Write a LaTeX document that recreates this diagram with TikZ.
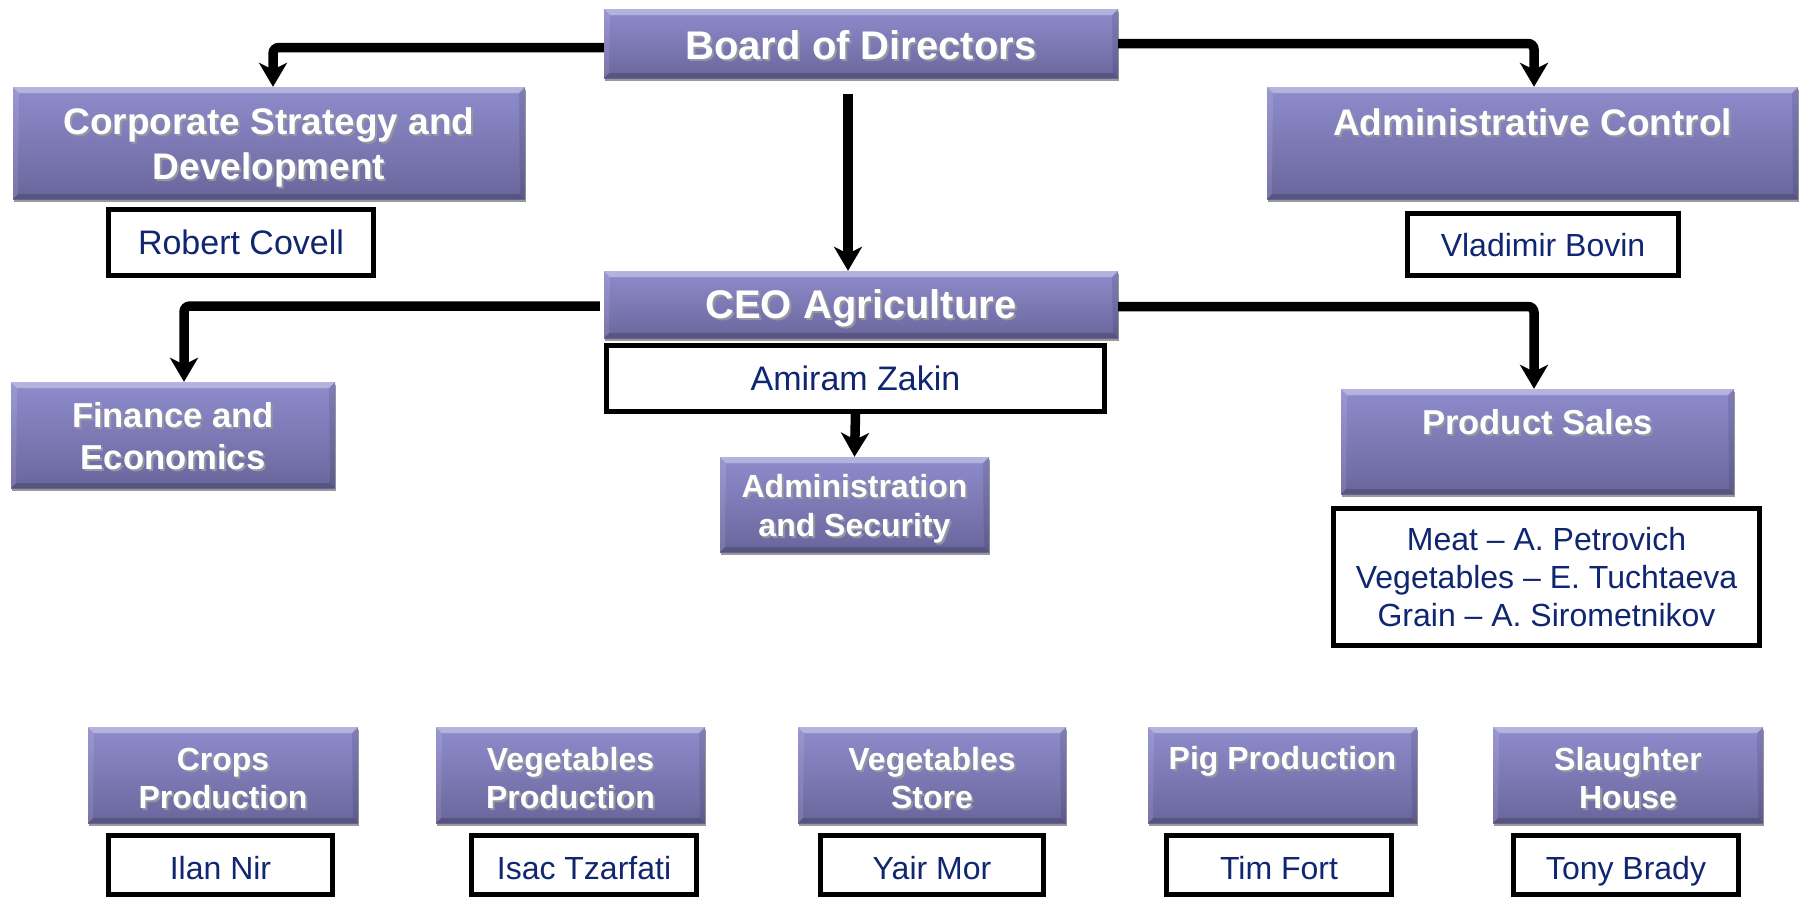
\documentclass[tikz,border=0pt]{standalone}
\usepackage{fontspec}
\setmainfont{Liberation Sans}
\usetikzlibrary{arrows.meta,shadows,calc}
\definecolor{boxtop}{RGB}{143,140,205}
\definecolor{boxbot}{RGB}{106,102,156}
\definecolor{tshadow}{RGB}{150,150,162}
\definecolor{navy}{RGB}{16,38,112}
\tikzset{
  pbox/.style={inner sep=0pt, top color=boxtop, bottom color=boxbot, draw=none,
    general shadow={fill=black!40, shadow xshift=1pt, shadow yshift=-2.5pt},
    path picture={
      \fill[white, opacity=0.35] (path picture bounding box.north west) -- (path picture bounding box.north east) -- ([shift={(-6pt,-6pt)}]path picture bounding box.north east) -- ([shift={(6pt,-6pt)}]path picture bounding box.north west) -- cycle;
      \fill[black, opacity=0.18] (path picture bounding box.south west) -- (path picture bounding box.south east) -- ([shift={(-5pt,5pt)}]path picture bounding box.south east) -- ([shift={(5pt,5pt)}]path picture bounding box.south west) -- cycle;
      \fill[white, opacity=0.10] (path picture bounding box.north west) -- ([shift={(6pt,-6pt)}]path picture bounding box.north west) -- ([shift={(5pt,5pt)}]path picture bounding box.south west) -- (path picture bounding box.south west) -- cycle;
      \fill[black, opacity=0.10] (path picture bounding box.north east) -- ([shift={(-6pt,-6pt)}]path picture bounding box.north east) -- ([shift={(-5pt,5pt)}]path picture bounding box.south east) -- (path picture bounding box.south east) -- cycle;
    }},
  btxt/.style={inner sep=0pt, align=center},
  nboxm/.style={draw=black, line width=5pt, fill=white, text=navy, inner sep=0pt, align=center},
  nbox/.style={nboxm, text depth=0pt, text height=23pt},
  arr/.style={line width=9.5pt, rounded corners=6pt, -{Stealth[length=24pt,width=28pt,inset=7pt]}},
}
% name, cx, cy, w, h, font, downward text shift, text
\newcommand\orgbox[8]{%
  \node[pbox, minimum width=#4pt, minimum height=#5pt] (#1) at (#2,#3) {};
  \node[btxt, text=tshadow, font={\bfseries#6}] (#1-s) at ([shift={(2pt,-2pt-#7pt)}]#1.center) {#8};
  \node[btxt, text=white, font={\bfseries#6}] (#1-t) at ([yshift=-#7pt]#1.center) {#8};
}
\newcommand\fs[2]{\fontsize{#1}{#2}\selectfont}
\begin{document}
\begin{tikzpicture}[x=1pt,y=-1pt]
\useasboundingbox (0,0) rectangle (1801,898);

% top level
\orgbox{board}{861}{43.5}{514}{69}{\fs{40}{46}}{2}{Board of Directors}
\orgbox{corp}{269}{143}{512}{112}{\fs{37}{45}}{4}{Corporate Strategy and\\Development}
\orgbox{admctl}{1532.5}{143}{531}{112}{\fs{37}{45}}{2}{Administrative Control\\~}
\node[nbox, text height=24.3pt, minimum width=265pt, minimum height=66pt, font=\fs{34}{40}] (robert) at (241,242.5) {Robert Covell};
\node[nbox, minimum width=271pt, minimum height=62pt, font=\fs{32}{38}] (vladimir) at (1543,244.5) {Vladimir Bovin};

% CEO level
\orgbox{ceo}{861}{304.5}{514}{67}{\fs{40}{46}}{4}{CEO Agriculture}
\node[nbox, text height=24.3pt, minimum width=498pt, minimum height=66pt, font=\fs{34}{40}] (amiram) at (855.5,378.5) {Amiram Zakin};
\orgbox{finance}{173}{435}{324}{106}{\fs{34.6}{42}}{1}{Finance and\\Economics}
\orgbox{admsec}{854.5}{504.5}{269}{95}{\fs{32}{39}}{4.5}{Administration\\and Security}
\orgbox{psales}{1537.5}{441.5}{393}{105}{\fs{34.6}{42}}{1}{Product Sales\\~}
\node[nboxm, minimum width=426pt, minimum height=137pt, font=\fs{32}{38}] (psnames) at (1546.5,577) {Meat -- A. Petrovich\\Vegetables -- E. Tuchtaeva\\Grain -- A. Sirometnikov};

% bottom row
\orgbox{crops}{223}{775}{270}{96}{\fs{32}{38}}{3}{Crops\\Production}
\orgbox{vegprod}{570.5}{775}{269}{96}{\fs{32}{38}}{3}{Vegetables\\Production}
\orgbox{vegstore}{932}{775}{268}{96}{\fs{32}{38}}{3}{Vegetables\\Store}
\orgbox{pig}{1282.5}{775}{269}{96}{\fs{32}{38}}{2}{Pig Production\\~}
\orgbox{slaughter}{1628}{775}{270}{96}{\fs{32}{38}}{3}{Slaughter\\House}

\tikzset{bname/.style={nbox, text height=28pt, minimum height=59pt, font=\fs{32}{38}}}
\node[bname, minimum width=224pt] (ilan) at (220.5,865) {Ilan Nir};
\node[bname, minimum width=225pt] (isac) at (584,865) {Isac Tzarfati};
\node[bname, minimum width=223pt] (yair) at (932,865) {Yair Mor};
\node[bname, minimum width=225pt] (tim) at (1279,865) {Tim Fort};
\node[bname, minimum width=225pt] (tony) at (1626,865) {Tony Brady};

% connectors
\draw[arr] ([yshift=-4pt]board.west) -| ([xshift=4pt]corp.north);
\draw[arr] (board.east) -| ([xshift=1.5pt]admctl.north);
\draw[arr] ([xshift=-13pt,yshift=-16pt]board.south) -- ([xshift=-13pt]ceo.north);
\draw[arr] ([xshift=-4pt,yshift=-1.5pt]ceo.west) -| ([xshift=11pt]finance.north);
\draw[arr] ([yshift=-2pt]ceo.east) -| ([xshift=-3.5pt]psales.north);
\draw[arr] (amiram.south) -- (admsec.north);
\end{tikzpicture}
\end{document}
